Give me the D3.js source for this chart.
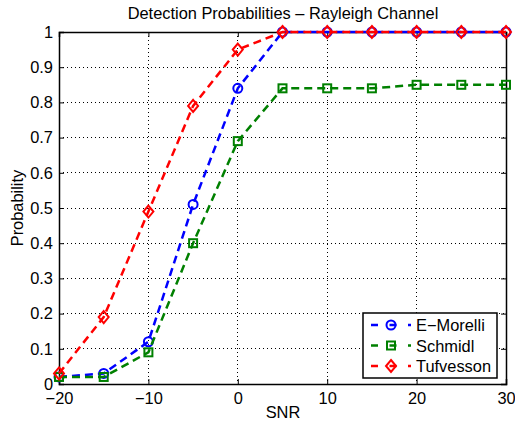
<!DOCTYPE html>
<html>
<head>
<meta charset="utf-8">
<script src="https://cdn.jsdelivr.net/npm/d3@7"></script>
<style>
  body { margin: 0; background: #fff; }
  text { font-family: "Liberation Sans", Arial, sans-serif; }
</style>
</head>
<body>
<svg id="chart" width="515" height="426"></svg>
<script>
(function() {
  'use strict';

  var snr = [-20, -15, -10, -5, 0, 5, 10, 15, 20, 25, 30];
  var eMorelli = [0.02, 0.03, 0.12, 0.51, 0.84, 1, 1, 1, 1, 1, 1];
  var schmidl = [0.02, 0.02, 0.09, 0.40, 0.69, 0.84, 0.84, 0.84, 0.85, 0.85, 0.85];
  var tufvesson = [0.03, 0.19, 0.49, 0.79, 0.95, 1, 1, 1, 1, 1, 1];
  var xTicks = [-20, -10, 0, 10, 20, 30];
  var yTicks = [0, 0.1, 0.2, 0.3, 0.4, 0.5, 0.6, 0.7, 0.8, 0.9, 1];

  var series = [
    { name: 'E\u2212Morelli', values: eMorelli, color: '#0000ff', marker: 'circle' },
    { name: 'Schmidl', values: schmidl, color: '#008000', marker: 'square' },
    { name: 'Tufvesson', values: tufvesson, color: '#ff0000', marker: 'diamond' }
  ];

  var FS = 16.4;

  var svg = d3.select('#chart'),
    m = { left: 59, right: 9, top: 32, bottom: 42 },
    W = 515 - m.left - m.right,
    H = 426 - m.top - m.bottom;

  var x = d3.scaleLinear().domain([-20, 30]).range([0, W]),
    y = d3.scaleLinear().domain([0, 1]).range([H, 0]);

  var g = svg.append('g').attr('transform', 'translate(' + m.left + ',' + m.top + ')');

  // grid
  g.append('g').selectAll('line').data(xTicks.slice(1, -1)).enter().append('line')
    .attr('x1', d => x(d)).attr('x2', d => x(d)).attr('y1', 0).attr('y2', H)
    .attr('stroke', '#000').attr('stroke-width', 1).attr('stroke-dasharray', '1,3')
    .attr('shape-rendering', 'crispEdges');
  g.append('g').selectAll('line').data(yTicks.slice(1, -1)).enter().append('line')
    .attr('y1', d => y(d)).attr('y2', d => y(d)).attr('x1', 0).attr('x2', W)
    .attr('stroke', '#000').attr('stroke-width', 1).attr('stroke-dasharray', '1,3')
    .attr('shape-rendering', 'crispEdges');

  // axes (ticks inward)
  var fmt = d => d3.format('')(d).replace('-', '\u2212');
  g.append('g').attr('transform', 'translate(0,' + H + ')')
    .call(d3.axisBottom(x).tickValues(xTicks).tickSize(-5).tickPadding(8).tickFormat(fmt));
  g.append('g').call(d3.axisTop(x).tickValues(xTicks).tickSize(-5).tickFormat(''));
  g.append('g')
    .call(d3.axisLeft(y).tickValues(yTicks).tickSize(-5).tickPadding(6).tickFormat(d3.format('')));
  g.append('g').attr('transform', 'translate(' + W + ',0)')
    .call(d3.axisRight(y).tickValues(yTicks).tickSize(-5).tickFormat(''));
  g.selectAll('.domain').attr('stroke', '#000').attr('stroke-width', 1.5);
  g.selectAll('.tick line').attr('stroke', '#000');
  g.selectAll('.tick text').attr('font-size', FS).attr('fill', '#000')
    .style('font-family', '"Liberation Sans", Arial, sans-serif');

  var line = d3.line().x(d => x(d[0])).y(d => y(d[1]));

  function drawMarker(sel, type, color) {
    if (type === 'circle') {
      sel.append('circle').attr('r', 4.5);
    } else if (type === 'square') {
      sel.append('rect').attr('x', -4).attr('y', -4).attr('width', 8).attr('height', 8);
    } else {
      sel.append('path').attr('d', 'M0,-6L5,0L0,6L-5,0Z');
    }
    sel.selectAll('*').attr('fill', 'none').attr('stroke', color).attr('stroke-width', 2);
  }

  series.forEach(function(s) {
    var pts = snr.map((v, i) => [v, s.values[i]]);
    g.append('path').datum(pts).attr('d', line)
      .attr('fill', 'none').attr('stroke', s.color).attr('stroke-width', 2.5)
      .attr('stroke-dasharray', '8,5');
    g.append('g').selectAll('g').data(pts).enter().append('g')
      .attr('transform', d => 'translate(' + x(d[0]) + ',' + y(d[1]) + ')')
      .each(function() { drawMarker(d3.select(this), s.marker, s.color); });
  });

  // legend
  var lg = svg.append('g').attr('transform', 'translate(363,313)');
  lg.append('rect').attr('width', 134).attr('height', 65)
    .attr('fill', '#fff').attr('stroke', '#000').attr('stroke-width', 1.5);
  series.forEach(function(s, i) {
    var row = lg.append('g').attr('transform', 'translate(0,' + (12 + i * 20.5) + ')');
    row.append('line').attr('x1', 8).attr('x2', 48).attr('y1', 0).attr('y2', 0)
      .attr('stroke', s.color).attr('stroke-width', 2.5).attr('stroke-dasharray', '7,11.5');
    drawMarker(row.append('g').attr('transform', 'translate(28,0)'), s.marker, s.color);
    row.append('text').attr('x', 53).attr('y', 6).attr('font-size', FS).text(s.name);
  });

  // labels
  svg.append('text').attr('x', 283).attr('y', 19).attr('text-anchor', 'middle')
    .attr('font-size', FS).text('Detection Probabilities \u2013 Rayleigh Channel');
  svg.append('text').attr('x', 283).attr('y', 418).attr('text-anchor', 'middle')
    .attr('font-size', FS).text('SNR');
  svg.append('text').attr('transform', 'translate(23,208) rotate(-90)').attr('text-anchor', 'middle')
    .attr('font-size', FS).text('Probability');
})();
</script>
</body>
</html>
